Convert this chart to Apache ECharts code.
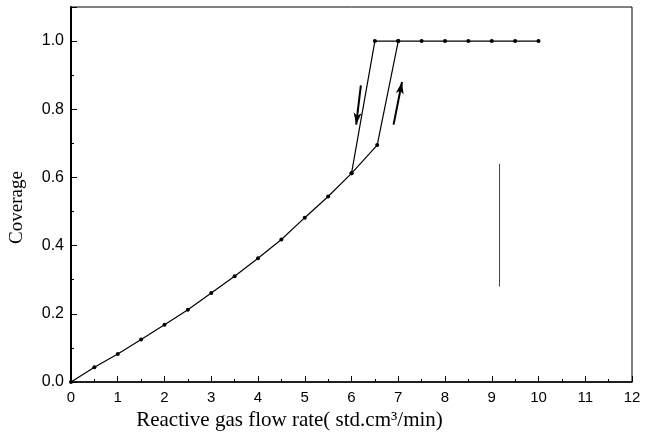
<!DOCTYPE html>
<html><head><meta charset="utf-8">
<script src="https://cdn.jsdelivr.net/npm/echarts@6/dist/echarts.min.js"></script>
<style>html,body{margin:0;padding:0;background:#fff}#c{width:648px;height:439px}</style>
</head><body><div id="c"></div>
<script>
// increasing flow branch
const flowUp = [0,0.5,1,1.5,2,2.5,3,3.5,4,4.5,5,5.5,6,6.55,7,7.5,8,8.5,9,9.5,10];
const coverUp = [0,0.043,0.082,0.125,0.168,0.212,0.261,0.31,0.363,0.418,0.482,0.544,0.612,0.695,1,1,1,1,1,1,1];
// decreasing flow branch
const flowDown = [7,6.5,6.0];
const coverDown = [1,1,0.612];
// arrow annotations [x1,y1,x2,y2]
const arrowDown = [6.2,0.87,6.1,0.755];
const arrowUp = [6.9,0.755,7.08,0.88];
// faint vertical stroke present in the scanned figure [x,y1,y2]
const strayMark = [9.15,0.28,0.64];
const xTicks = [0,1,2,3,4,5,6,7,8,9,10,11,12];
const yTicks = [0,0.2,0.4,0.6,0.8,1.0];

const pair = (a,b)=>a.map((v,i)=>[v,b[i]]);
const chart = echarts.init(document.getElementById('c'));
chart.setOption({
  animation:false,
  grid:{left:70,right:16,top:7,bottom:57,show:true,borderColor:'#000',borderWidth:1},
  xAxis:{type:'value',min:xTicks[0],max:xTicks[xTicks.length-1],interval:1,
    name:'Reactive gas flow rate( std.cm³/min)',nameLocation:'middle',nameGap:25,
    nameTextStyle:{fontFamily:'Liberation Serif',fontSize:21,color:'#000',padding:[0,124,0,0],verticalAlign:'top'},
    axisLine:{lineStyle:{color:'#000',width:1.5}},
    axisTick:{inside:true,length:6,lineStyle:{color:'#000',width:1}},
    minorTick:{show:true,splitNumber:2,length:3,lineStyle:{color:'#000'}},
    splitLine:{show:false},
    axisLabel:{fontFamily:'Liberation Sans',fontSize:15,color:'#000',margin:8}},
  yAxis:{type:'value',min:0,max:1.1,interval:0.2,
    name:'Coverage',nameLocation:'middle',nameGap:44,nameRotate:90,
    nameTextStyle:{fontFamily:'Liberation Serif',fontSize:19,color:'#000',padding:[0,26,0,0]},
    axisLine:{lineStyle:{color:'#000',width:2}},
    axisTick:{inside:true,length:6,lineStyle:{color:'#000',width:1}},
    minorTick:{show:true,splitNumber:2,length:3,lineStyle:{color:'#000'}},
    splitLine:{show:false},
    axisLabel:{fontFamily:'Liberation Sans',fontSize:16,color:'#000',margin:7,showMaxLabel:false,
      formatter:v=>v.toFixed(1)}},
  series:[
    {type:'line',data:pair(flowUp,coverUp),symbol:'circle',symbolSize:4,
      itemStyle:{color:'#000'},lineStyle:{color:'#000',width:1.2},
      markLine:{silent:true,symbol:['none','arrow'],symbolSize:[6,12],label:{show:false},
        lineStyle:{color:'#000',width:2,type:'solid'},
        data:[
          [{coord:[arrowDown[0],arrowDown[1]]},{coord:[arrowDown[2],arrowDown[3]]}],
          [{coord:[arrowUp[0],arrowUp[1]]},{coord:[arrowUp[2],arrowUp[3]]}],
          [{coord:[strayMark[0],strayMark[2]],symbol:'none',lineStyle:{width:1,color:'#444'}},
           {coord:[strayMark[0],strayMark[1]],symbol:'none'}]
        ]}},
    {type:'line',data:pair(flowDown,coverDown),symbol:'circle',symbolSize:4,
      itemStyle:{color:'#000'},lineStyle:{color:'#000',width:1.2}}
  ]
});
</script></body></html>
